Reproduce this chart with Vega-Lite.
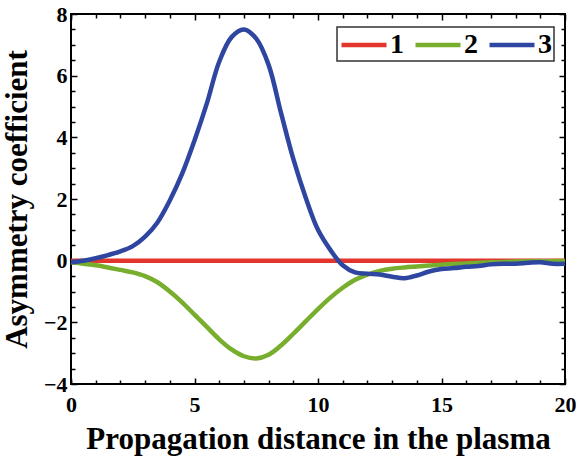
{
  "$schema": "https://vega.github.io/schema/vega-lite/v6.json",
  "width": 494,
  "height": 370,
  "autosize": {"type": "none"},
  "padding": {"left": 71, "top": 14, "right": 20, "bottom": 73},
  "background": "white",
  "config": {
    "view": {"stroke": "black", "strokeWidth": 2},
    "legend": {"strokeWidth": 1.5},
    "axis": {
      "domain": false,
      "grid": false,
      "labelFlush": false,
      "tickColor": "black",
      "tickWidth": 1.5,
      "labelFont": "Times New Roman, Liberation Serif, serif",
      "labelFontWeight": "bold",
      "labelFontSize": 22,
      "labelColor": "black",
      "titleFont": "Times New Roman, Liberation Serif, serif",
      "titleFontWeight": "bold",
      "titleFontSize": 31,
      "titleColor": "black"
    }
  },
  "data": {
    "values": [
      {"x": 0, "y": 0, "s": "1"},
      {"x": 20, "y": 0, "s": "1"},
      {"x": 0, "y": -0.05, "s": "2"},
      {"x": 0.5, "y": -0.1, "s": "2"},
      {"x": 1, "y": -0.15, "s": "2"},
      {"x": 1.5, "y": -0.22, "s": "2"},
      {"x": 2, "y": -0.3, "s": "2"},
      {"x": 2.5, "y": -0.38, "s": "2"},
      {"x": 3, "y": -0.5, "s": "2"},
      {"x": 3.5, "y": -0.7, "s": "2"},
      {"x": 4, "y": -1.0, "s": "2"},
      {"x": 4.5, "y": -1.35, "s": "2"},
      {"x": 5, "y": -1.75, "s": "2"},
      {"x": 5.5, "y": -2.15, "s": "2"},
      {"x": 6, "y": -2.55, "s": "2"},
      {"x": 6.5, "y": -2.88, "s": "2"},
      {"x": 7, "y": -3.1, "s": "2"},
      {"x": 7.5, "y": -3.17, "s": "2"},
      {"x": 8, "y": -3.05, "s": "2"},
      {"x": 8.5, "y": -2.75, "s": "2"},
      {"x": 9, "y": -2.37, "s": "2"},
      {"x": 9.5, "y": -1.97, "s": "2"},
      {"x": 10, "y": -1.57, "s": "2"},
      {"x": 10.5, "y": -1.2, "s": "2"},
      {"x": 11, "y": -0.88, "s": "2"},
      {"x": 11.5, "y": -0.62, "s": "2"},
      {"x": 12, "y": -0.45, "s": "2"},
      {"x": 12.5, "y": -0.33, "s": "2"},
      {"x": 13, "y": -0.26, "s": "2"},
      {"x": 13.5, "y": -0.22, "s": "2"},
      {"x": 14, "y": -0.19, "s": "2"},
      {"x": 14.5, "y": -0.16, "s": "2"},
      {"x": 15, "y": -0.13, "s": "2"},
      {"x": 16, "y": -0.09, "s": "2"},
      {"x": 17, "y": -0.05, "s": "2"},
      {"x": 18, "y": -0.03, "s": "2"},
      {"x": 19, "y": -0.02, "s": "2"},
      {"x": 20, "y": -0.01, "s": "2"},
      {"x": 0, "y": -0.05, "s": "3"},
      {"x": 0.5, "y": 0.0, "s": "3"},
      {"x": 1, "y": 0.08, "s": "3"},
      {"x": 1.5, "y": 0.18, "s": "3"},
      {"x": 2, "y": 0.3, "s": "3"},
      {"x": 2.5, "y": 0.47, "s": "3"},
      {"x": 3, "y": 0.78, "s": "3"},
      {"x": 3.5, "y": 1.24, "s": "3"},
      {"x": 4, "y": 1.95, "s": "3"},
      {"x": 4.5, "y": 2.82, "s": "3"},
      {"x": 5, "y": 3.9, "s": "3"},
      {"x": 5.5, "y": 5.1, "s": "3"},
      {"x": 6, "y": 6.45, "s": "3"},
      {"x": 6.5, "y": 7.25, "s": "3"},
      {"x": 7, "y": 7.5, "s": "3"},
      {"x": 7.5, "y": 7.2, "s": "3"},
      {"x": 8, "y": 6.35, "s": "3"},
      {"x": 8.5, "y": 4.8, "s": "3"},
      {"x": 9, "y": 3.3, "s": "3"},
      {"x": 9.5, "y": 2.05, "s": "3"},
      {"x": 10, "y": 1.0, "s": "3"},
      {"x": 10.5, "y": 0.35, "s": "3"},
      {"x": 11, "y": -0.15, "s": "3"},
      {"x": 11.5, "y": -0.38, "s": "3"},
      {"x": 12, "y": -0.42, "s": "3"},
      {"x": 12.5, "y": -0.45, "s": "3"},
      {"x": 13, "y": -0.52, "s": "3"},
      {"x": 13.5, "y": -0.57, "s": "3"},
      {"x": 14, "y": -0.48, "s": "3"},
      {"x": 14.5, "y": -0.35, "s": "3"},
      {"x": 15, "y": -0.27, "s": "3"},
      {"x": 15.5, "y": -0.24, "s": "3"},
      {"x": 16, "y": -0.2, "s": "3"},
      {"x": 16.5, "y": -0.17, "s": "3"},
      {"x": 17, "y": -0.12, "s": "3"},
      {"x": 17.5, "y": -0.1, "s": "3"},
      {"x": 18, "y": -0.1, "s": "3"},
      {"x": 18.5, "y": -0.07, "s": "3"},
      {"x": 19, "y": -0.05, "s": "3"},
      {"x": 19.5, "y": -0.1, "s": "3"},
      {"x": 20, "y": -0.1, "s": "3"}
    ]
  },
  "resolve": {"axis": {"x": "independent", "y": "independent"}},
  "layer": [
    {
      "mark": {"type": "line", "opacity": 0},
      "encoding": {
        "x": {"field": "x", "type": "quantitative", "scale": {"domain": [0, 20], "nice": false, "zero": false},
          "axis": {"orient": "bottom", "values": [0,1,2,3,4,6,7,8,9,11,12,13,14,16,17,18,19], "labels": false, "title": null, "tickSize": -4}},
        "y": {"field": "y", "type": "quantitative", "scale": {"domain": [-4, 8], "nice": false, "zero": false},
          "axis": {"orient": "left", "values": [-3.5,-3,-2.5,-1.5,-1,-0.5,0.5,1,1.5,2.5,3,3.5,4.5,5,5.5,6.5,7,7.5], "labels": false, "title": null, "tickSize": -4}},
        "detail": {"field": "s"}
      }
    },
    {
      "mark": {"type": "line", "opacity": 0},
      "encoding": {
        "x": {"field": "x", "type": "quantitative",
          "axis": {"orient": "top", "values": [0,1,2,3,4,6,7,8,9,11,12,13,14,16,17,18,19], "labels": false, "title": null, "tickSize": -4}},
        "y": {"field": "y", "type": "quantitative",
          "axis": {"orient": "right", "values": [-3.5,-3,-2.5,-1.5,-1,-0.5,0.5,1,1.5,2.5,3,3.5,4.5,5,5.5,6.5,7,7.5], "labels": false, "title": null, "tickSize": -4}},
        "detail": {"field": "s"}
      }
    },
    {
      "mark": {"type": "line", "opacity": 0},
      "encoding": {
        "x": {"field": "x", "type": "quantitative",
          "axis": {"orient": "top", "values": [0,5,10,15,20], "labels": false, "title": null, "tickSize": -6}},
        "y": {"field": "y", "type": "quantitative",
          "axis": {"orient": "right", "values": [-4,-2,0,2,4,6,8], "labels": false, "title": null, "tickSize": -6}},
        "detail": {"field": "s"}
      }
    },
    {
      "mark": {"type": "line", "strokeWidth": 4.5, "interpolate": "catmull-rom"},
      "encoding": {
        "x": {"field": "x", "type": "quantitative",
          "axis": {"orient": "bottom", "values": [0,5,10,15,20], "tickSize": -6, "labelPadding": 16, "title": "Propagation distance in the plasma", "titlePadding": 9}},
        "y": {"field": "y", "type": "quantitative",
          "axis": {"orient": "left", "values": [-4,-2,0,2,4,6,8], "tickSize": -6, "labelPadding": 10, "title": "Asymmetry coefficient", "titlePadding": 10}},
        "color": {"field": "s", "type": "nominal",
          "scale": {"domain": ["1","2","3"], "range": ["#e2352b", "#78ae2e", "#2f46a1"]},
          "legend": {
            "orient": "none", "legendX": 266, "legendY": 13, "direction": "horizontal", "title": null,
            "strokeColor": "#333", "fillColor": "white", "padding": 2,
            "symbolType": "M-1,0L2.333,0", "symbolSize": 729, "symbolStrokeWidth": 4.5,
            "labelFont": "Times New Roman, Liberation Serif, serif", "labelFontWeight": "bold", "labelFontSize": 28, "labelColor": "black",
            "labelOffset": 19, "columnPadding": 2
          }}
      }
    }
  ]
}
